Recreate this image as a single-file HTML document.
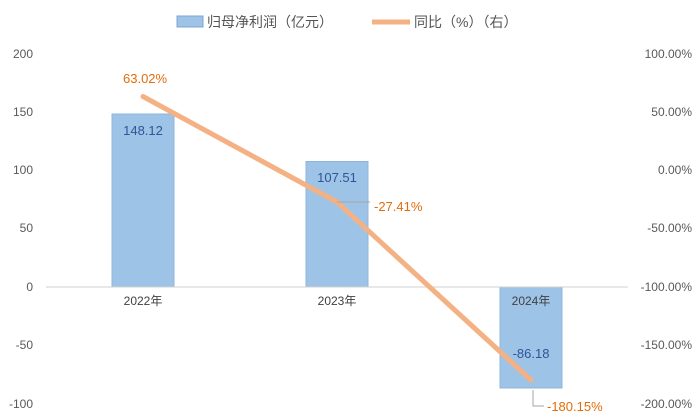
<!DOCTYPE html><html><head><meta charset="utf-8"><style>body{margin:0;background:#fff}svg{display:block}text{font-family:"Liberation Sans","Noto Sans CJK SC",sans-serif}</style></head><body>
<svg width="700" height="420" viewBox="0 0 700 420">
<rect x="177" y="16" width="26" height="11" fill="#9dc3e6" stroke="#7fa6d6"/>
<text x="207" y="27" font-size="14" fill="#555">归母净利润（亿元）</text>
<line x1="372" y1="22" x2="410" y2="22" stroke="#f4b183" stroke-width="5"/>
<text x="414" y="27" font-size="14" fill="#555">同比（%）（右）</text>
<g font-size="12" fill="#595959" text-anchor="end">
<text x="33" y="58">200</text><text x="33" y="116">150</text><text x="33" y="174">100</text><text x="33" y="232">50</text><text x="33" y="291">0</text><text x="33" y="349">-50</text><text x="33" y="408">-100</text></g>
<g font-size="12" fill="#595959" text-anchor="end">
<text x="692" y="58">100.00%</text><text x="692" y="116">50.00%</text><text x="692" y="174">0.00%</text><text x="692" y="232">-50.00%</text><text x="692" y="291">-100.00%</text><text x="692" y="349">-150.00%</text><text x="692" y="408">-200.00%</text></g>
<g fill="#9dc3e6" stroke="#8fb4dc">
<rect x="112" y="114" width="62" height="173"/>
<rect x="306" y="161.5" width="62" height="125.5"/>
<rect x="500" y="287" width="62" height="101"/></g>
<line x1="46" y1="287" x2="628" y2="287" stroke="#d0d0d0"/>
<g font-size="12" fill="#404040" text-anchor="middle">
<text x="143" y="305">2022年</text><text x="337" y="305">2023年</text><text x="531" y="305">2024年</text></g>
<g font-size="13" fill="#2f5597" text-anchor="middle">
<text x="143" y="135">148.12</text><text x="337" y="182">107.51</text><text x="531" y="358">-86.18</text></g>
<polyline points="143,96.5 337,202 531,380" fill="none" stroke="#f4b183" stroke-width="5" stroke-linejoin="round" stroke-linecap="round"/>
<line x1="337" y1="202" x2="370" y2="202" stroke="#a6a6a6"/>
<polyline points="533,390 533,406 544,406" fill="none" stroke="#a6a6a6"/>
<g font-size="13" fill="#e46c0a">
<text x="123" y="83">63.02%</text><text x="374" y="211">-27.41%</text><text x="547" y="411">-180.15%</text></g>
</svg></body></html>
